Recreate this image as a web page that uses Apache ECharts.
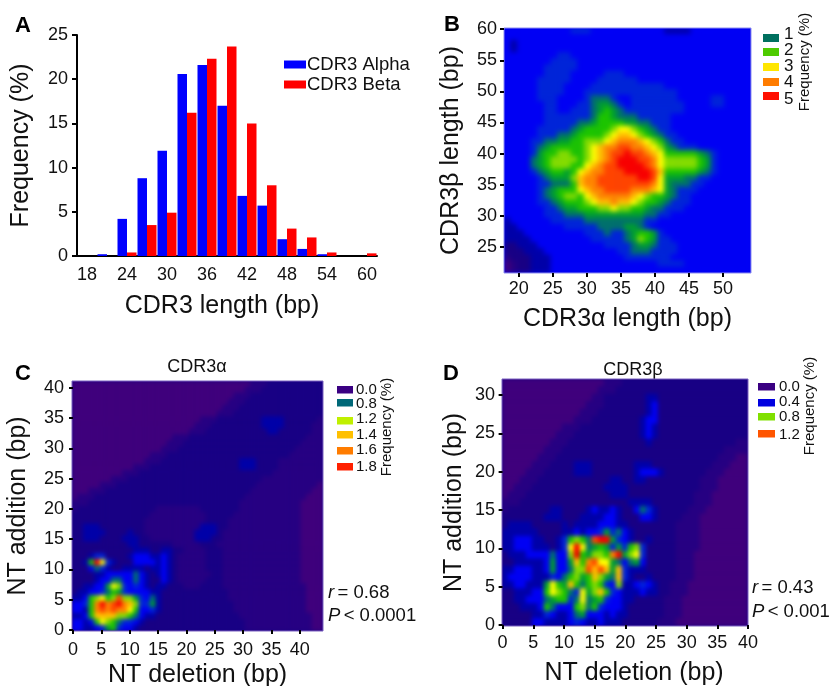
<!DOCTYPE html>
<html><head><meta charset="utf-8">
<style>html,body{margin:0;padding:0;background:#fff}#c{width:829px;height:686px}</style>
<script src="https://cdn.jsdelivr.net/npm/echarts@6/dist/echarts.min.js"></script>
</head><body><div id="c"></div>
<script>
// Panel A
const lengths=['18','21','24','27','30','33','36','39','42','45','48','51','54','57','60'];
const alphaFreq=[0,0.2,4.2,8.8,11.9,20.6,21.6,17,6.8,5.7,1.9,0.8,0.2,0,0];
const betaFreq=[0,0,0.4,3.5,4.9,16.2,22.3,23.7,15,8,3.1,2.1,0.4,0,0.3];
// Heat levels, top row first, one char per cell (hex level 0..e)
const heatB=[
"4444444444 5554444444 4444333344 4444444",
"4444444444 4444444444 4444444444 4444444",
"4344444444 4444444444 4444444444 4444444",
"4344444444 4444444444 4444444444 4444444",
"4444444455 4444444444 4444444444 4444444",
"4444444555 5444444444 4444444444 4444444",
"4444445555 5444444444 4444444444 4444444",
"4444445555 4444455544 4444444444 4444444",
"4444455555 4444555555 4444444444 4444444",
"4444455554 4445555555 5555444444 4444444",
"4444455554 4455555555 5555554444 4444444",
"4444455544 4456665445 5555554444 4554444",
"4444445544 4556776545 5555555444 4554444",
"4444445544 5556787655 5555555444 4444444",
"4444445555 5556887666 5555544444 4444444",
"4444445555 5667888877 6655544444 4444444",
"4444455555 6788889aa9 8765544444 4444444",
"4444455566 788889abba 9876554444 4444444",
"4444556677 88999abccc ba98655444 4444444",
"4444567888 889abccddc cba9765554 4444444",
"4444578899 889abcdded dcba888887 6544444",
"4444678999 989abcdeee ddca999998 7544444",
"4444678999 88abcddeee edca999998 7544444",
"4444567887 8abccdddee eedb888887 6544444",
"4444456777 9bccdddddd eeda777665 5444444",
"4444455666 8bccdddddd ddca766655 4444444",
"4444456788 8abccddddc ccba765554 4444444",
"4444456789 98abcccccb a988765544 4444444",
"4444455678 889abbcbba 9887655544 4444444",
"4444445567 788899a998 8766555444 4444444",
"4444445556 6677777777 7665544444 4444444",
"3444444555 5566666666 6554444444 4444444",
"3344444445 5555666677 6544444444 4444444",
"3334444444 4455565567 8875444444 4444444",
"3333444444 4445555567 9875544444 4444444",
"2233344444 4444455556 7765554444 4444444",
"2223334444 4444444556 6655554444 4444444",
"1222333444 4444444455 5555544444 4444444",
"0122333444 4444444444 4445555444 4444444",
"0122333444 4444444444 4444444444 4444444"];
const heatC=[
"0000000000 0000000000 0000000000 0011122222 22222",
"0000000000 0000000000 0000000000 0111222222 22222",
"0000000000 0000000000 0000000001 1122222222 22222",
"0000000000 0000000000 0000000011 1222222222 22222",
"0000000000 0000000000 0000000111 2222222222 22222",
"0000000000 0000000000 0000001112 2222222222 22222",
"0000000000 0000000000 0001112222 2222333322 22221",
"0000000000 0000000000 0011122222 2222333322 22211",
"0000000000 0000000000 0111222222 2222233222 22211",
"0000000000 0000000011 1222222222 2222222222 22111",
"0000000000 0000000111 2222222222 2222222222 21111",
"0000000000 0000001112 2222222222 2222222222 11111",
"0000000000 0000111222 2222222222 2222222221 11111",
"0000000000 0001112222 2222222222 3332222111 11111",
"0000000000 0111222222 2222222222 3332222111 11111",
"0000000001 1122222222 2222222222 2222221111 11111",
"0000000111 2222222222 2222222222 2222111111 11111",
"0000011122 2222222222 2222222222 2221111111 11110",
"0001112222 2222222222 2222222222 2211111111 11100",
"0111222222 2222222222 2222222222 2111111111 11000",
"1112222222 2222222222 2222222222 1111111111 10000",
"1222222222 2222211111 1112222222 1111111111 10000",
"2222222222 2222111111 1111222221 1111111111 10000",
"2222222222 2221111111 1111222211 1111111111 10000",
"2233322222 2221111111 1113332211 1111111111 10000",
"2233332222 3221111111 1133332111 1111111111 10000",
"2233322223 3322111111 1133322111 1111111111 10000",
"2222222222 3322222211 1112221111 1111111111 10000",
"2222222222 2333223322 1111222111 1111111111 10000",
"2223552222 3444334321 1111222111 1111111111 10000",
"2238ea5322 2444434321 1111222111 1111111111 10000",
"2224653223 3332334321 1111222111 1111111111 10000",
"2222334444 4643234321 1111122111 1111111111 10000",
"2222344664 4643224321 1111222111 1111111111 10000",
"2233447a95 4543233222 1112222111 1111111111 11000",
"2334456875 4444332222 2222222211 1111111111 11000",
"33489a89d9 9754632222 2222222211 1111111111 11000",
"4458cecdec b955732222 2222222221 1111111111 11000",
"4438cdcdcc a844532222 2222222221 1111111111 11000",
"3348bbbb99 8643322222 2222222222 1111111111 11100",
"44348a9865 5432222222 2222222222 2111111111 11100",
"4433457854 4322222222 2222222222 2111111111 11100"];
const heatD=[
"0000000000 0000000111 2222222222 2222222222 2",
"0000000000 0000001112 2222222222 2222222222 2",
"0000000000 0000011222 2222332222 2222222222 2",
"0000000000 0000111222 2222342222 2222222222 2",
"0000000000 0001112222 2222342222 2222222222 2",
"0000000000 0011122222 2223442222 2222222222 2",
"0000000000 1112222222 2223432222 2222222222 2",
"0000000001 1122222222 2223432222 2222222222 2",
"0000000011 1222222222 2222322222 2222222221 1",
"0000000111 2222222222 2222222222 2222222111 1",
"0000001112 2222222222 2222222222 2222221110 0",
"0000011122 2233322222 2233322222 2222211100 0",
"0000111222 2233322222 2234443222 2222111000 0",
"0001112222 2222222233 2233222222 2221110000 0",
"0011122222 2222222333 3222222222 2221110000 0",
"0111222222 2222222233 3222222222 2211100000 0",
"1112222222 2222222222 2333322222 2211100000 0",
"1222222233 2222343343 2246532222 2111000000 0",
"2222222333 2223333443 2224432222 1110000000 0",
"2333322222 3233334443 3222222221 1110000000 0",
"3333332222 3343445756 4322222221 1110000000 0",
"3344433223 58986dee75 4322322221 1110000000 0",
"3344433323 5aea678757 5895222221 1110000000 0",
"2333444464 49e87998ce 79a5222221 1100000000 0",
"2233333474 47b8cdaa76 4674222221 1100000000 0",
"3344433474 4699dbdb7b 5333222221 1100000000 0",
"3444433354 68978b976b 5322322221 1100000000 0",
"33443337a8 7b86898549 3345432211 1000000000 0",
"22333448a9 865a79b854 3334332211 1000000000 0",
"2233444678 856a678544 3322222111 0000000000 0",
"2223334864 4489685444 3222222111 0000000000 0",
"2222233543 3467444343 3222222111 0000000000 0",
"2222244333 3454334333 2222221110 0000000000 0"];
const levelColors=['#3f007c','#260082','#180084','#0000a8','#0000f4','#0024d8','#00706c','#009e30','#1cc400','#84dc00','#ffff00','#ffc000','#ff8400','#ff4400','#f80000'];
const ticksB_x=[20,25,30,35,40,45,50], ticksB_y=[25,30,35,40,45,50,55,60];
const ticksC_x=[0,5,10,15,20,25,30,35,40], ticksC_y=[0,5,10,15,20,25,30,35,40];
const ticksD_x=[0,5,10,15,20,25,30,35,40], ticksD_y=[0,5,10,15,20,25,30];
const legendB=[['1','#00705f'],['2','#4ecb00'],['3','#ffe600'],['4','#ff7c00'],['5','#ff1000']];
const legendC=[['0.0','#3a0082'],['0.8','#006878'],['1.2','#c0f000'],['1.4','#ffc000'],['1.6','#ff7c00'],['1.8','#ff2000']];
const legendD=[['0.0','#3a0082'],['0.4','#0000e0'],['0.8','#80e000'],['1.2','#ff5500']];

const FONT='"Liberation Sans",Arial,sans-serif';
function cells(rows){
  const clean=rows.map(r=>r.replace(/ /g,''));
  const w=clean[0].length;
  clean.forEach((r,i)=>{if(r.length!==w)throw new Error('row '+i+' len '+r.length+' expected '+w)});
  const h=clean.length,out=[];
  clean.forEach((r,i)=>{for(let j=0;j<w;j++)out.push([j,h-1-i,parseInt(r[j],16)])});
  return {data:out,w,h};
}
const hb=cells(heatB),hc=cells(heatC),hd=cells(heatD);
const seq=n=>Array.from({length:n},(_,i)=>String(i));

const grids=[
 {left:77,top:35,width:300,height:221,outerBoundsMode:'none'},
 {left:504,top:28,width:247,height:245,outerBoundsMode:'none',show:true,zlevel:-9,backgroundColor:'#0000f4',borderWidth:0},
 {left:72,top:381,width:251,height:250,outerBoundsMode:'none',show:true,zlevel:-9,backgroundColor:'#180084',borderWidth:0},
 {left:502,top:379,width:246,height:247,outerBoundsMode:'none',show:true,zlevel:-9,backgroundColor:'#180084',borderWidth:0}
];
function valX(g,min,max,ticks,name,gap,margin,pad){return {type:'value',gridIndex:g,min,max,position:'bottom',splitLine:{show:false},axisLine:{show:false},
  axisTick:{show:true,length:4,customValues:ticks,lineStyle:{color:'#000',width:2}},
  axisLabel:{customValues:ticks,color:'#111',fontFamily:FONT,fontSize:18,margin,hideOverlap:false},
  name,nameLocation:'middle',nameGap:gap,nameTextStyle:{color:'#111',fontFamily:FONT,fontSize:25,padding:pad||0}}}
function valY(g,min,max,ticks,name,gap,margin){return {type:'value',gridIndex:g,min,max,position:'left',splitLine:{show:false},axisLine:{show:false},
  axisTick:{show:true,length:4,customValues:ticks,lineStyle:{color:'#000',width:2}},
  axisLabel:{customValues:ticks,color:'#111',fontFamily:FONT,fontSize:18,margin,hideOverlap:false},
  name,nameLocation:'middle',nameGap:gap,nameTextStyle:{color:'#111',fontFamily:FONT,fontSize:25}}}
const hid=(g,n)=>({type:'category',gridIndex:g,data:seq(n),show:false,position:'top'});
const hidY=(g,n)=>({type:'category',gridIndex:g,data:seq(n),show:false,position:'right'});

const xAxis=[
 {type:'category',gridIndex:0,data:lengths,axisLine:{lineStyle:{color:'#000',width:2}},axisTick:{alignWithLabel:true,length:5,lineStyle:{color:'#000',width:2}},
  axisLabel:{interval:1,color:'#111',fontFamily:FONT,fontSize:18,margin:10},
  name:'CDR3 length (bp)',nameLocation:'middle',nameGap:38,nameTextStyle:{color:'#111',fontFamily:FONT,fontSize:25,padding:[0,10,0,0]}},
 valX(1,17.84,54.1,ticksB_x,'CDR3\u03b1 length (bp)',34,7),
 valX(2,-0.18,44.1,ticksC_x,'NT deletion (bp)',32,10),
 valX(3,-0.1,40,ticksD_x,'NT deletion (bp)',35,8,[0,0,0,18]),
 hid(1,hb.w),hid(2,hc.w),hid(3,hd.w)
];
const yAxis=[
 {type:'value',gridIndex:0,min:0,max:25,interval:5,splitLine:{show:false},axisLine:{show:true,lineStyle:{color:'#000',width:2}},axisTick:{show:true,length:5,lineStyle:{color:'#000',width:2}},
  axisLabel:{color:'#111',fontFamily:FONT,fontSize:18,margin:9},
  name:'Frequency (%)',nameLocation:'middle',nameGap:43,nameTextStyle:{color:'#111',fontFamily:FONT,fontSize:25}},
 valY(1,20.8,60.2,ticksB_y,'CDR3\u03b2 length (bp)',40,7),
 valY(2,-0.16,41.1,ticksC_y,'NT addition (bp)',41,8),
 valY(3,-0.13,32.1,ticksD_y,'NT addition (bp)',35,7),
 hidY(1,hb.h),hidY(2,hc.h),hidY(3,hd.h)
];
const heat=(g,h)=>({type:'heatmap',xAxisIndex:3+g,yAxisIndex:3+g,zlevel:g-4,data:h.data,progressive:0,emphasis:{disabled:true},silent:true});
const series=[
 {name:'CDR3 Alpha',type:'bar',xAxisIndex:0,yAxisIndex:0,data:alphaFreq,barWidth:9.5,barGap:'0%',itemStyle:{color:'#0000ff'}},
 {name:'CDR3 Beta',type:'bar',xAxisIndex:0,yAxisIndex:0,data:betaFreq,barWidth:9.5,barGap:'0%',itemStyle:{color:'#ff0000'}},
 heat(1,hb),heat(2,hc),heat(3,hd)
];

function txt(x,y,text,size,extra){return {type:'text',x,y,silent:true,style:Object.assign({text,fill:'#111',font:size+'px '+FONT,textAlign:'left',textVerticalAlign:'middle'},extra||{})}}
const g=[];
[['A',15,26],['B',444,25],['C',15,374],['D',443,374]].forEach(p=>g.push(txt(p[1],p[2],p[0],22,{font:'bold 22px '+FONT,fill:'#000'})));
g.push(txt(197,367,'CDR3\u03b1',18,{textAlign:'center'}));
g.push(txt(633,370,'CDR3\u03b2',18,{textAlign:'center'}));
[[1,'#8c8cf0'],[2,'#7a60c0'],[3,'#7a60c0']].forEach(b=>{const r=grids[b[0]];
  g.push({type:'rect',silent:true,shape:{x:r.left,y:r.top,width:r.width,height:r.height},style:{fill:'none',stroke:b[1],lineWidth:1}});});
function swatches(list,x,w,h,ys,lx,lys,fs){list.forEach((e,i)=>{
  g.push({type:'rect',silent:true,shape:{x,y:ys[i],width:w,height:h},style:{fill:e[1]}});
  g.push(txt(lx,lys[i],e[0],fs));
});}
swatches(legendB,763,16,8,[34,48,63,78,92],784,[34,50,66.5,82,99],17);
swatches(legendC,337,16,7.5,[386,399,417,431,447,463],356,[390,404,419,435,450,467],15);
swatches(legendD,758,17,7.5,[383,399,413,430],779,[387,402,417,435],15);
function rot(x,y){const t=txt(x,y,'Frequency (%)',15,{textAlign:'center'});t.rotation=Math.PI/2;return t}
g.push(rot(805,62),rot(387,427),rot(810,406));
const rich={i:{font:'italic 18.5px '+FONT,fill:'#111'},n:{font:'18.5px '+FONT,fill:'#111'}};
[[328,593,'{i|r} {n|= 0.68}'],[328,616,'{i|P} {n|< 0.0001}'],[752,588,'{i|r} {n|= 0.43}'],[752,612,'{i|P} {n|< 0.001}']].forEach(p=>{
  g.push({type:'text',x:p[0],y:p[1],silent:true,style:{text:p[2],rich,textAlign:'left',textVerticalAlign:'middle'}});
});

const chart=echarts.init(document.getElementById('c'),null,{renderer:'canvas'});
chart.setOption({animation:false,backgroundColor:'#fff',grid:grids,xAxis,yAxis,series,
 visualMap:{show:false,type:'continuous',seriesIndex:[2,3,4],min:0,max:14,inRange:{color:levelColors}},
 legend:{data:['CDR3 Alpha','CDR3 Beta'],orient:'vertical',left:279,top:50,itemWidth:22,itemHeight:8,itemGap:1,icon:'rect',selectedMode:false,
   textStyle:{color:'#111',fontFamily:FONT,fontSize:18.5,padding:[0,0,0,-4]}},
 graphic:g});
// soften each heat layer (one canvas per zlevel), clipped to its own plot area
function soften(z,blur,grid){
  const cv=document.querySelector('canvas[data-zr-dom-id="zr_'+z+'"]');
  if(!cv)return;
  cv.style.filter='blur('+blur+'px)';
  cv.style.clipPath='inset('+grid.top+'px '+(829-grid.left-grid.width)+'px '+(686-grid.top-grid.height)+'px '+grid.left+'px)';
}
soften(-3,2.6,grids[1]);soften(-2,1.9,grids[2]);soften(-1,1.9,grids[3]);
</script></body></html>
